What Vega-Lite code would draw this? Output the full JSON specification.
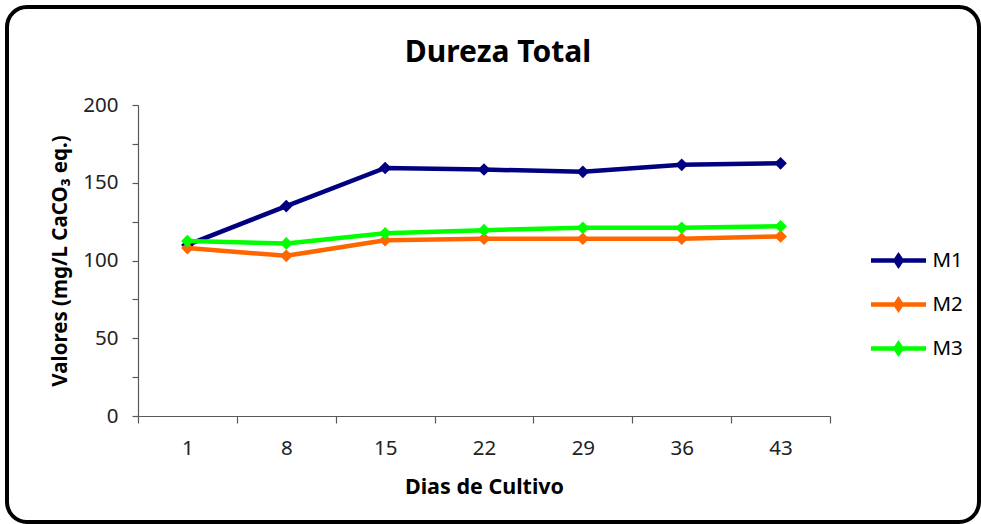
{
  "$schema": "https://vega.github.io/schema/vega-lite/v6.json",
  "width": 972,
  "height": 515,
  "autosize": {"type": "none"},
  "padding": {"left": 7, "top": 7, "right": 2, "bottom": 2},
  "background": "white",
  "config": {
    "font": "Noto Sans",
    "view": {"stroke": "black", "strokeWidth": 4, "cornerRadius": 20, "fill": "white"}
  },
  "title": {
    "text": "Dureza Total",
    "font": "Noto Sans",
    "fontSize": 30,
    "fontWeight": "bold",
    "color": "black",
    "anchor": "middle",
    "baseline": "alphabetic",
    "offset": 0,
    "dy": 85,
    "dx": 5
  },
  "data": {
    "values": [
      {"serie": "M1", "dia": 1, "valor": 110},
      {"serie": "M1", "dia": 8, "valor": 135},
      {"serie": "M1", "dia": 15, "valor": 159.5},
      {"serie": "M1", "dia": 22, "valor": 158.5},
      {"serie": "M1", "dia": 29, "valor": 157},
      {"serie": "M1", "dia": 36, "valor": 161.5},
      {"serie": "M1", "dia": 43, "valor": 162.5},
      {"serie": "M2", "dia": 1, "valor": 108},
      {"serie": "M2", "dia": 8, "valor": 103},
      {"serie": "M2", "dia": 15, "valor": 113},
      {"serie": "M2", "dia": 22, "valor": 114},
      {"serie": "M2", "dia": 29, "valor": 114},
      {"serie": "M2", "dia": 36, "valor": 114},
      {"serie": "M2", "dia": 43, "valor": 115.5},
      {"serie": "M3", "dia": 1, "valor": 112.5},
      {"serie": "M3", "dia": 8, "valor": 111},
      {"serie": "M3", "dia": 15, "valor": 117.5},
      {"serie": "M3", "dia": 22, "valor": 119.5},
      {"serie": "M3", "dia": 29, "valor": 121},
      {"serie": "M3", "dia": 36, "valor": 121},
      {"serie": "M3", "dia": 43, "valor": 122}
    ]
  },
  "mark": {
    "type": "line",
    "strokeWidth": 4.5,
    "point": {"shape": "diamond", "filled": true, "size": 160, "opacity": 1}
  },
  "encoding": {
    "x": {
      "field": "dia",
      "type": "ordinal",
      "scale": {"type": "band", "range": [131, 823], "paddingInner": 0, "paddingOuter": 0},
      "axis": {
        "offset": -106,
        "tickBand": "extent",
        "tickSize": 7,
        "tickColor": "#595959",
        "domainColor": "#595959",
        "domainWidth": 1.2,
        "tickWidth": 1.2,
        "labelAngle": 0,
        "labelFontSize": 20.5,
        "labelColor": "#222222",
        "labelPadding": 15,
        "grid": false,
        "title": "Dias de Cultivo",
        "titleFontSize": 21.5,
        "titleFontWeight": "bold",
        "titleColor": "black",
        "titleY": 71,
        "titleBaseline": "middle"
      }
    },
    "y": {
      "field": "valor",
      "type": "quantitative",
      "scale": {"domain": [0, 200], "range": [409, 98], "nice": false},
      "axis": {
        "offset": -131,
        "values": [0, 25, 50, 75, 100, 125, 150, 175, 200],
        "labelExpr": "datum.value % 50 == 0 ? datum.label : ''",
        "tickSize": 6,
        "tickColor": "#595959",
        "domainColor": "#595959",
        "domainWidth": 1.2,
        "tickWidth": 1.2,
        "labelFontSize": 20.5,
        "labelColor": "#222222",
        "labelPadding": 14,
        "grid": false,
        "title": "Valores (mg/L CaCO₃ eq.)",
        "titleFontSize": 20.5,
        "titleFontWeight": "bold",
        "titleColor": "black",
        "titleX": -78,
        "titleBaseline": "middle"
      }
    },
    "color": {
      "field": "serie",
      "type": "nominal",
      "scale": {"domain": ["M1", "M2", "M3"], "range": ["#000080", "#FF6600", "#00FF00"]},
      "legend": {
        "title": null,
        "orient": "none",
        "legendX": 879,
        "legendY": 241,
        "padding": 0,
        "rowPadding": 17,
        "symbolType": "M-2.75,0H2.75M-0.3,0L0,-0.45L0.3,0L0,0.45Z",
        "symbolSize": 400,
        "symbolStrokeWidth": 4.5,
        "labelOffset": 21.5,
        "labelFontSize": 20.5,
        "labelColor": "black",
        "encode": {
          "symbols": {
            "update": {
              "fill": {"scale": "color", "field": "value"},
              "stroke": {"scale": "color", "field": "value"},
              "strokeWidth": {"value": 4.5},
              "opacity": {"value": 1}
            }
          }
        }
      }
    }
  }
}
